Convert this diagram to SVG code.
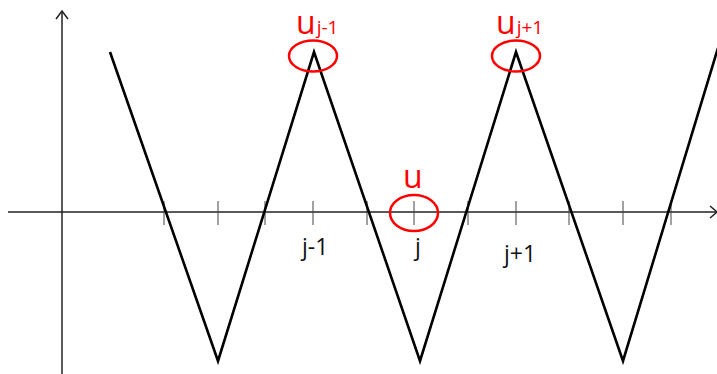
<svg xmlns="http://www.w3.org/2000/svg" width="717" height="374" viewBox="0 0 717 374">
<style>
.axis{stroke:#222;stroke-width:1.5;fill:none}
.tick{stroke:#444;stroke-width:1;fill:none}
.wave{stroke:#000;stroke-width:2.6;fill:none;stroke-linejoin:miter}
.ring{stroke:#f00;stroke-width:2.5;fill:none}
.lbl{font-family:"Open Sans","Liberation Sans",Arial,sans-serif;font-size:23px;fill:#111}
.red{font-family:"Open Sans","Liberation Sans",Arial,sans-serif;fill:#f00}
</style>
<rect width="717" height="374" fill="#fff"/>
<g id="connectors">
<line class="axis" x1="62" y1="374" x2="62" y2="11"/>
<polyline class="axis" points="56,19 62,11 68,19"/>
<line class="axis" x1="8" y1="212" x2="717" y2="212"/>
<polyline class="axis" points="710,206 717,212 710,218"/>
<g id="ticks">
<line class="tick" x1="164" y1="201" x2="164" y2="225"/>
<line class="tick" x1="218" y1="201" x2="218" y2="225"/>
<line class="tick" x1="265" y1="201" x2="265" y2="225"/>
<line class="tick" x1="313" y1="201" x2="313" y2="225"/>
<line class="tick" x1="367" y1="201" x2="367" y2="225"/>
<line class="tick" x1="414" y1="201" x2="414" y2="225"/>
<line class="tick" x1="468" y1="201" x2="468" y2="225"/>
<line class="tick" x1="516" y1="201" x2="516" y2="225"/>
<line class="tick" x1="569" y1="201" x2="569" y2="225"/>
<line class="tick" x1="623" y1="201" x2="623" y2="225"/>
<line class="tick" x1="671" y1="201" x2="671" y2="225"/>
</g>
<polyline class="wave" points="110,52 218,361 314,52 420,361 516,52 623,361 718,48"/>
</g>
<g id="label-jm1"><text class="lbl" x="302" y="255">j-1</text></g>
<g id="label-j"><text class="lbl" x="415" y="255">j</text></g>
<g id="label-jp1"><text class="lbl" x="504" y="262">j+1</text></g>
<g id="node-ujm1">
<ellipse class="ring" cx="313" cy="56" rx="24" ry="15.5"/>
<text class="red" x="296" y="34" font-size="32">u<tspan font-size="19" dx="1">j-1</tspan></text>
</g>
<g id="node-ujp1">
<ellipse class="ring" cx="516" cy="56" rx="24" ry="15.5"/>
<text class="red" x="496" y="34" font-size="32">u<tspan font-size="19" dx="1">j+1</tspan></text>
</g>
<g id="node-u">
<ellipse class="ring" cx="414" cy="213" rx="24" ry="18"/>
<text class="red" x="403" y="188" font-size="32">u</text>
</g>
</svg>
